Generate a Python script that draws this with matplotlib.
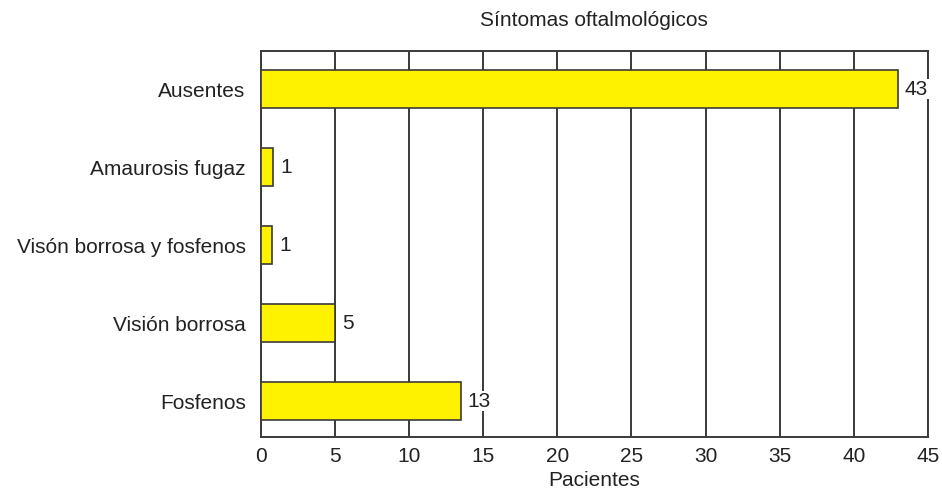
import matplotlib.pyplot as plt
import numpy as np

plt.rcParams['font.family'] = ['Liberation Sans', 'DejaVu Sans']

# Categories, bottom to top
categories = ['Fosfenos', 'Visión borrosa', 'Visón borrosa y fosfenos',
              'Amaurosis fugaz', 'Ausentes']
# Patient counts shown as labels
patients = [13, 5, 1, 1, 43]
# Bar lengths as drawn in the original figure
bar_lengths = [13.5, 5.0, 0.78, 0.83, 43.0]

fig = plt.figure(figsize=(9.42, 4.92), dpi=100)
ax = fig.add_axes([0.277, 0.112, 0.708, 0.784])

y = np.arange(len(categories))
bars = ax.barh(y, bar_lengths, height=0.49, color='#fff200',
               edgecolor='#3a3a3a', linewidth=1.2, zorder=3)

# Value labels
for bar, val in zip(bars, patients):
    ax.text(bar.get_width() + 0.45, bar.get_y() + bar.get_height() / 2, str(val),
            ha='left', va='center', fontsize=15, color='#222222', zorder=4,
            bbox=dict(facecolor='white', edgecolor='none', pad=0.5))

ax.set_xlim(0, 45)
ax.set_ylim(-0.46, 4.49)
ax.set_xticks(np.arange(0, 46, 5))
ax.set_yticks(y)
ax.set_yticklabels(categories)
ax.tick_params(axis='both', length=0, labelsize=15, colors='#222222')
ax.tick_params(axis='y', pad=11)
ax.tick_params(axis='x', pad=7)
ax.grid(axis='x', color='#3a3a3a', linewidth=1.4, zorder=1)
for s in ax.spines.values():
    s.set_color('#3a3a3a')
    s.set_linewidth(1.4)

ax.set_xlabel('Pacientes', fontsize=15, color='#222222', labelpad=4)
ax.set_title('Síntomas oftalmológicos', fontsize=15, color='#222222', pad=18)

plt.savefig('out.png', dpi=100)
